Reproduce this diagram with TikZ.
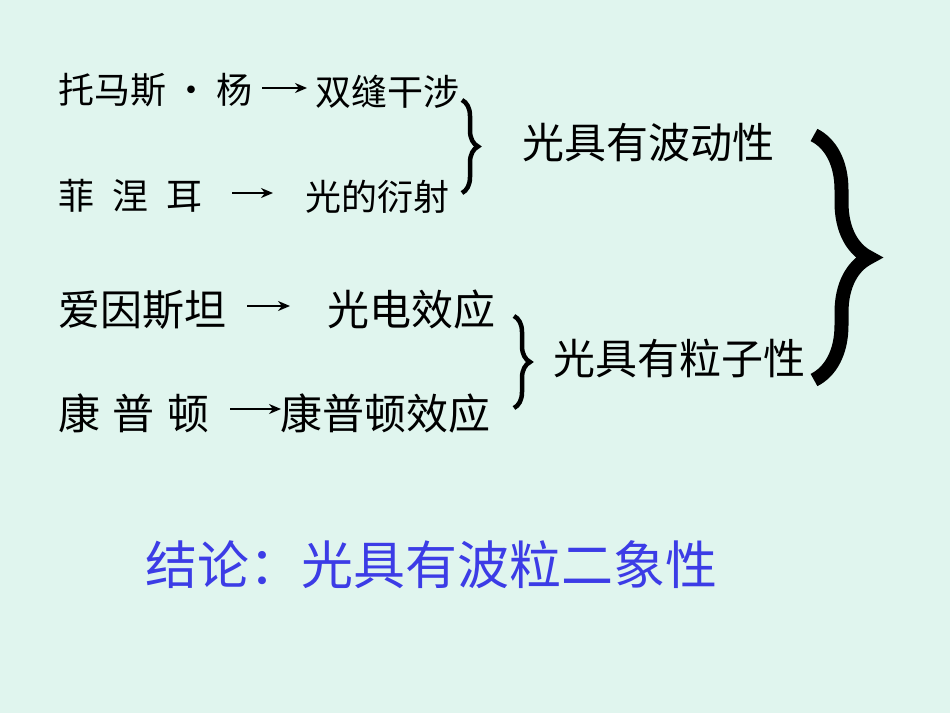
\documentclass[tikz,border=0pt]{standalone}
\usepackage{fontspec}
\setmainfont{Noto Sans CJK SC}
\usetikzlibrary{arrows.meta,decorations.pathreplacing}
\tikzset{
 t/.style={inner sep=0pt,anchor=west,font=\fontsize{36}{38}\selectfont},
 tb/.style={inner sep=0pt,anchor=west,font=\fontsize{42}{44}\selectfont},
 ar/.style={line width=2pt,-{Stealth[length=12pt,width=10pt]}},
 br/.style={decorate,decoration={brace,amplitude=16pt},line width=4.5pt},
}
\begin{document}
\begin{tikzpicture}[x=1pt,y=-1pt]
\fill[fill={rgb,255:red,224;green,245;blue,238}] (0,0) rectangle (950,713);
\node[t] (a1) at (58,90) {托马斯\hspace{0.2em}·\hspace{0.2em}杨};
\node[t] (b1) at (315,92) {双缝干涉};
\coordinate (p1s) at (262,88); \coordinate (p1e) at (307,88);
\draw[ar] (p1s) -- (p1e);
\node[t] (a2) at (58,196) {菲\hspace{0.5em}涅\hspace{0.5em}耳};
\node[t] (b2) at (305,197) {光的衍射};
\coordinate (p2s) at (232,193); \coordinate (p2e) at (273,193);
\draw[ar] (p2s) -- (p2e);
\coordinate (q1a) at (462,100); \coordinate (q1b) at (462,193);
\draw[br] (q1a) -- (q1b);
\node[tb] (w) at (522,143) {光具有波动性};
\node[tb] (a3) at (58,310) {爱因斯坦};
\node[tb] (b3) at (327,310) {光电效应};
\coordinate (p3s) at (247,306); \coordinate (p3e) at (290,306);
\draw[ar] (p3s) -- (p3e);
\node[tb] (a4) at (58,413) {康\hspace{0.3em}普\hspace{0.3em}顿};
\node[tb] (b4) at (280,413) {康普顿效应};
\coordinate (p4s) at (230,409); \coordinate (p4e) at (281,409);
\draw[ar] (p4s) -- (p4e);
\coordinate (q2a) at (514,316); \coordinate (q2b) at (514,408);
\draw[br] (q2a) -- (q2b);
\node[tb] (pz) at (553,358) {光具有粒子性};
\coordinate (q3a) at (814,135); \coordinate (q3b) at (814,380);
\draw[decorate,decoration={brace,amplitude=55pt},line width=14pt] (q3a) -- (q3b);
\node[inner sep=0pt,anchor=west,font=\fontsize{52}{54}\selectfont,text={rgb,255:red,60;green,60;blue,230}] (c) at (145,565) {结论：光具有波粒二象性};
\end{tikzpicture}
\end{document}
